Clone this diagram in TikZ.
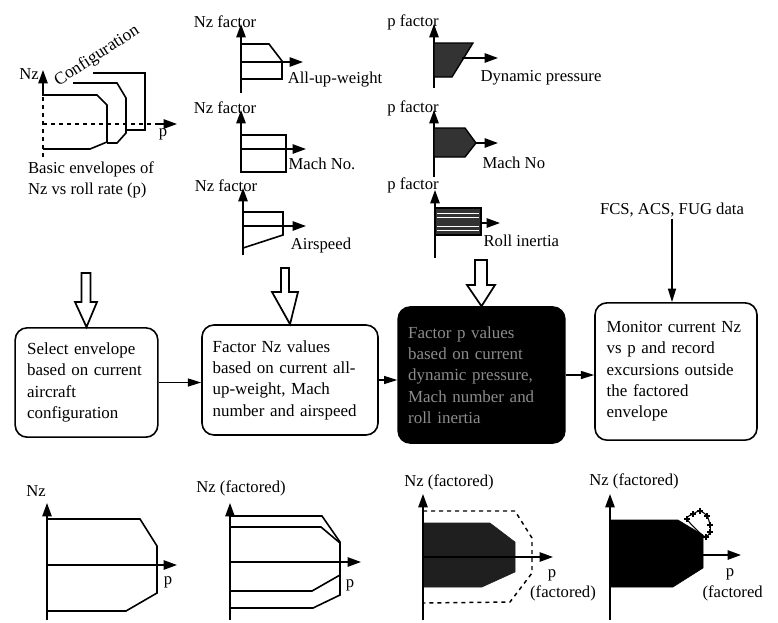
\documentclass[tikz,border=0pt]{standalone}
\usepackage{fontspec}
\setmainfont{Liberation Serif}
\usetikzlibrary{
    arrows.meta,        % punte delle frecce
    calc,               % calcoli con coordinate
    positioning         % posizionamento dei nodi
}

\tikzset{
    stepbox/.style={draw, line width=1.2pt, rounded corners=9pt, align=left,
        inner xsep=0pt, font=\fontsize{12.7}{16}\selectfont},
    axis/.style={line width=1.2pt, -{Triangle[length=10pt,width=7pt]}},
    env/.style={line width=1.2pt},
    flow/.style={line width=1pt, -{Triangle[length=10pt,width=6pt]}},
    bigarrow/.style={line width=1.3pt, fill=white},
    lbl/.style={font=\fontsize{12.5}{16}\selectfont, inner sep=1pt},
    shade/.style={fill=black!80, draw=black, line width=1pt},
}

\begin{document}
\begin{tikzpicture}[x=0.75pt, y=-0.75pt]
\useasboundingbox (0,0) rectangle (778,622);

    % Inviluppi base Nz - p
    \draw[dashed, line width=1pt] (43,157) -- (43,95);
    \draw[axis] (43,96) -- (43,70);
    \draw[dashed, line width=1pt] (43,124) -- (160,124);
    \draw[axis] (158,124) -- (177,124);
    \draw[env] (43,95) -- (97,95) -- (107,105) -- (107,142) -- (90,149) -- (43,149);
    \draw[env] (73,83) -- (117,83) -- (126,98) -- (126,133) -- (117,143) -- (107,143);
    \draw[env] (93,73) -- (145,73) -- (145,130) -- (126,130);
    \node[lbl] (nzbase) at (29,74) {Nz};
    \node[lbl] (pbase) at (163,134) {p};
    \node[lbl, rotate=33, font=\fontsize{13}{16}\selectfont] (config) at (97,56) {Configuration};
    \node[lbl, align=left] (basic) at (91,180) {Basic envelopes of\\Nz vs roll rate (p)};

    % Fattori Nz
    \draw[axis] (241,93) -- (241,24);
    \draw[axis] (241,62) -- (303,62);
    \draw[env] (241,44) -- (269,44) -- (282,61) -- (282,79) -- (241,79);
    \node[lbl] (nzf1) at (225,22) {Nz factor};
    \node[lbl] (auw) at (335,80) {All-up-weight};

    \draw[axis] (241,173) -- (241,110);
    \draw[axis] (241,149) -- (306,149);
    \draw[env] (241,135) -- (286,135) -- (286,172) -- (241,172);
    \node[lbl] (nzf2) at (225,108) {Nz factor};
    \node[lbl] (machnz) at (322,164) {Mach No.};

    \draw[axis] (243,255) -- (243,188);
    \draw[axis] (243,226) -- (306,226);
    \draw[env] (243,212) -- (283,212) -- (283,235) -- (243,248);
    \node[lbl] (nzf3) at (226,186) {Nz factor};
    \node[lbl] (airsp) at (321,245) {Airspeed};

    % Fattori p
    \draw[axis] (434,88) -- (434,24);
    \draw[shade] (434,43) -- (473,43) -- (452,77) -- (434,77) -- cycle;
    \draw[axis] (462,58) -- (498,58);
    \node[lbl] (pf1) at (413,22) {p factor};
    \node[lbl, anchor=west] (dynp) at (479,78) {Dynamic pressure};

    \draw[axis] (434,177) -- (434,110);
    \draw[shade] (434,128) -- (465,128) -- (476,143) -- (465,157) -- (434,157) -- cycle;
    \draw[axis] (476,143) -- (498,143);
    \node[lbl] (pf2) at (413,108) {p factor};
    \node[lbl, anchor=west] (machp) at (481,163) {Mach No};

    \draw[axis] (435,258) -- (435,190);
    \draw[shade] (435,208) rectangle (481,235);
    \foreach \yy in {213,217,226,230}
        \draw[white, line width=0.6pt] (437,\yy) -- (479,\yy);
    \draw[axis] (481,223) -- (500,223);
    \node[lbl] (pf3) at (413,185) {p factor};
    \node[lbl, anchor=west] (rollin) at (482,241) {Roll inertia};

    % Blocchi del processo
    \node[stepbox, minimum width=107pt, minimum height=82pt, text width=89pt]
        (selbox) at (86.5,382.5) {Select envelope\\based on current\\aircraft\\configuration};
    \node[stepbox, minimum width=132pt, minimum height=82.5pt, text width=116pt]
        (facbox) at (290,380) {Factor Nz values\\based on current all-\\up-weight, Mach\\number and airspeed};
    \node[stepbox, fill=black, text=black!45, minimum width=125pt, minimum height=102pt, text width=110pt]
        (pbox) at (481.5,375) {Factor p values\\based on current\\dynamic pressure,\\Mach number and\\roll inertia};
    \node[stepbox, minimum width=121.5pt, minimum height=103pt, text width=104pt]
        (monbox) at (676,371.5) {Monitor current Nz\\vs p and record\\excursions outside\\the factored\\envelope};
    \node[lbl] (fcs) at (672,210) {FCS, ACS, FUG data};

    % Frecce
    \draw[flow] (selbox.east) -- (selbox.east -| facbox.west);
    \draw[flow] (facbox.east) -- (facbox.east -| pbox.west);
    \draw[flow] (pbox.east) -- (pbox.east -| monbox.west);
    \draw[flow] (fcs.south) -- (fcs.south |- monbox.north);

    % Frecce vuote
    \draw[bigarrow] (81.5,273) -- (90.5,273) -- (90.5,302) -- (97,302) -- (selbox.north) -- (75,302) -- (81.5,302) -- cycle;
    \draw[bigarrow] (281,268) -- (289,268) -- (289,292) -- (298,292) -- (facbox.north) -- (272,292) -- (281,292) -- cycle;
    \draw[bigarrow] (475,260) -- (487,260) -- (487,285) -- (495,285) -- (pbox.north) -- (467,285) -- (475,285) -- cycle;

    % Inviluppo base
    \draw[axis] (47,620) -- (47,503);
    \draw[axis] (47,565) -- (177,565);
    \draw[env] (47,519) -- (140,519) -- (157,546) -- (157,593) -- (126,611) -- (47,611);
    \node[lbl] (nzA) at (36,491) {Nz};
    \node[lbl] (pA) at (168,582) {p};

    % Inviluppo fattorizzato Nz
    \draw[axis] (230,620) -- (230,503);
    \draw[axis] (230,562) -- (361,562);
    \draw[env] (230,516) -- (322,516) -- (340,542) -- (340,595) -- (313,608) -- (230,608);
    \draw[env] (230,527) -- (321,527) -- (340,543);
    \draw[env] (230,591) -- (312,591) -- (340,575);
    \node[lbl] (nzB) at (241,488) {Nz (factored)};
    \node[lbl] (pB) at (350,585) {p};

    % Inviluppo fattorizzato Nz e p
    \draw[fill=black!88, draw=black!88] (423,523) -- (490,523) -- (515,542) -- (515,572) -- (482,587) -- (423,587) -- cycle;
    \draw[dashed, line width=1.1pt] (423,511) -- (515,511) -- (532,538) -- (532,573) -- (510,602) -- (423,603);
    \draw[axis] (423,620) -- (423,494);
    \draw[axis] (423,557) -- (553,557);
    \node[lbl] (nzC) at (449,482) {Nz (factored)};
    \node[lbl] (pC) at (552,575) {p};
    \node[lbl] (facC) at (563,593) {(factored)};

    % Escursione fuori dall'inviluppo
    \draw[fill=black] (610,520) -- (678,520) -- (703,535) -- (703,568) -- (673,587) -- (610,587) -- cycle;
    \draw[axis] (610,620) -- (610,494);
    \draw[axis] (703,555) -- (741,555);
    \draw[line width=0.8pt] plot[smooth cycle] coordinates {(687,519) (693,514) (700,511) (707,516) (710,525) (710,532) (706,537) (700,533)};
    \foreach \px/\py in {687/519, 693/514, 700/511, 707/516, 710/525, 710/532, 706/537}
        \draw[line width=0.9pt] (\px-3,\py) -- (\px+3,\py) (\px,\py-3) -- (\px,\py+3);
    \node[lbl] (nzD) at (634,481) {Nz (factored)};
    \node[lbl] (pD) at (730,574) {p};
    \node[lbl, anchor=west] (facD) at (701,593) {(factored};

\end{tikzpicture}
\end{document}
